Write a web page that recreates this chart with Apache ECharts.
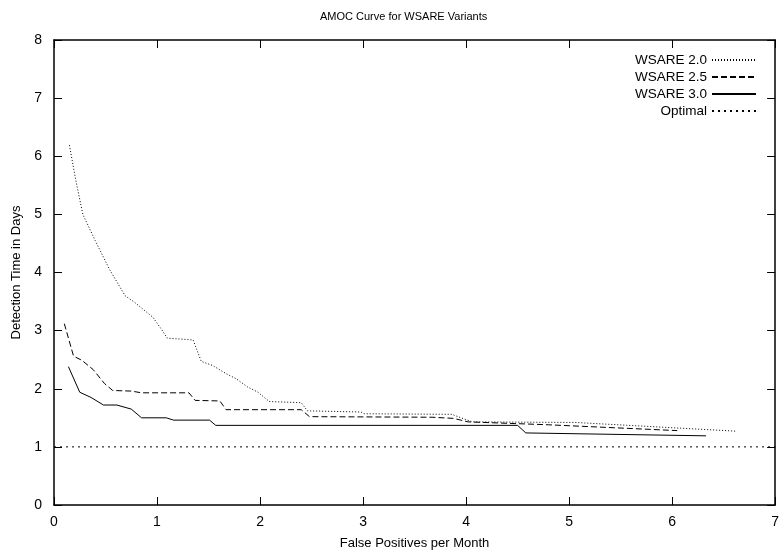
<!DOCTYPE html>
<html>
<head>
<meta charset="utf-8">
<script src="https://cdn.jsdelivr.net/npm/echarts@6/dist/echarts.min.js"></script>
<style>
  html, body { margin: 0; padding: 0; background: #fff; }
  #chart { width: 782px; height: 557px; }
</style>
</head>
<body>
<div id="chart"></div>
<script>
// Detection time (days) vs. false positives per month for each detector version
const wsare20 = [
  [0.15, 6.19], [0.21, 5.60], [0.28, 5.00], [0.40, 4.55], [0.45, 4.37], [0.54, 4.05],
  [0.69, 3.60], [0.78, 3.49], [0.96, 3.23], [1.04, 3.03], [1.10, 2.87], [1.35, 2.84],
  [1.43, 2.47], [1.54, 2.40], [1.67, 2.26], [1.77, 2.17], [1.88, 2.03], [1.98, 1.94],
  [2.09, 1.78], [2.40, 1.76], [2.46, 1.62], [2.98, 1.60], [3.01, 1.57], [3.86, 1.56],
  [4.06, 1.43], [5.06, 1.42], [6.62, 1.27]
];
const wsare25 = [
  [0.10, 3.12], [0.19, 2.56], [0.27, 2.49], [0.38, 2.33], [0.49, 2.09], [0.57, 1.97],
  [0.75, 1.96], [0.85, 1.93], [1.31, 1.93], [1.37, 1.80], [1.61, 1.79], [1.67, 1.64],
  [2.40, 1.64], [2.48, 1.52], [3.67, 1.51], [3.88, 1.49], [4.02, 1.43], [4.80, 1.38],
  [6.05, 1.28]
];
const wsare30 = [
  [0.14, 2.38], [0.25, 1.94], [0.36, 1.85], [0.48, 1.72], [0.61, 1.72], [0.75, 1.65],
  [0.85, 1.50], [1.09, 1.50], [1.16, 1.46], [1.51, 1.46], [1.57, 1.37], [4.50, 1.37],
  [4.58, 1.24], [6.33, 1.19]
];
const optimal = [[0, 1], [7, 1]];

const seriesNames = ['WSARE 2.0', 'WSARE 2.5', 'WSARE 3.0', 'Optimal'];
const xTicks = [0, 1, 2, 3, 4, 5, 6, 7];
const yTicks = [0, 1, 2, 3, 4, 5, 6, 7, 8];

const FONT = '"Liberation Sans", Arial, sans-serif';
const black = '#000';

const chart = echarts.init(document.getElementById('chart'), null, { renderer: 'canvas' });

function lineSeries(name, data, type, width) {
  return {
    name: name,
    type: 'line',
    data: data,
    symbol: 'none',
    animation: false,
    lineStyle: { color: black, width: width, type: type },
    itemStyle: { color: black }
  };
}

const axisCommon = {
  type: 'value',
  axisLine: { show: true, onZero: false, lineStyle: { color: black, width: 1.5 } },
  splitLine: { show: false },
  axisTick: { show: true, inside: true, length: 8, lineStyle: { color: black, width: 1 } }
};

chart.setOption({
  backgroundColor: '#fff',
  animation: false,
  title: {
    text: 'AMOC Curve for WSARE Variants',
    left: 315,
    top: 6,
    textStyle: { fontFamily: FONT, fontSize: 11, fontWeight: 'normal', color: black }
  },
  grid: { left: 54, right: 6, top: 40, bottom: 52, containLabel: false },
  legend: {
    data: seriesNames,
    orient: 'vertical',
    right: 20,
    top: 48,
    align: 'right',
    itemWidth: 44,
    itemHeight: 10,
    itemGap: 3,
    textStyle: { fontFamily: FONT, fontSize: 13.5, color: black },
    itemStyle: { opacity: 0 },
    selectedMode: false
  },
  xAxis: [
    Object.assign({}, axisCommon, {
      position: 'bottom',
      min: xTicks[0], max: xTicks[xTicks.length - 1], interval: 1,
      name: 'False Positives per Month',
      nameLocation: 'middle',
      nameGap: 32,
      nameTextStyle: { fontFamily: FONT, fontSize: 13, color: black },
      axisLabel: { margin: 10, fontFamily: FONT, fontSize: 14, color: black }
    }),
    Object.assign({}, axisCommon, {
      position: 'top',
      min: xTicks[0], max: xTicks[xTicks.length - 1], interval: 1,
      axisLabel: { show: false }
    })
  ],
  yAxis: [
    Object.assign({}, axisCommon, {
      position: 'left',
      min: yTicks[0], max: yTicks[yTicks.length - 1], interval: 1,
      name: 'Detection Time in Days',
      nameLocation: 'middle',
      nameGap: 28,
      nameTextStyle: { fontFamily: FONT, fontSize: 13, color: black },
      axisLabel: { margin: 12, fontFamily: FONT, fontSize: 14, color: black }
    }),
    Object.assign({}, axisCommon, {
      position: 'right',
      min: yTicks[0], max: yTicks[yTicks.length - 1], interval: 1,
      axisLabel: { show: false }
    })
  ],
  series: [
    lineSeries(seriesNames[0], wsare20, [1, 2], 1),
    lineSeries(seriesNames[1], wsare25, [6, 3], 1),
    lineSeries(seriesNames[2], wsare30, 'solid', 1),
    lineSeries(seriesNames[3], optimal, [2, 4], 1)
  ]
});
</script>
</body>
</html>
